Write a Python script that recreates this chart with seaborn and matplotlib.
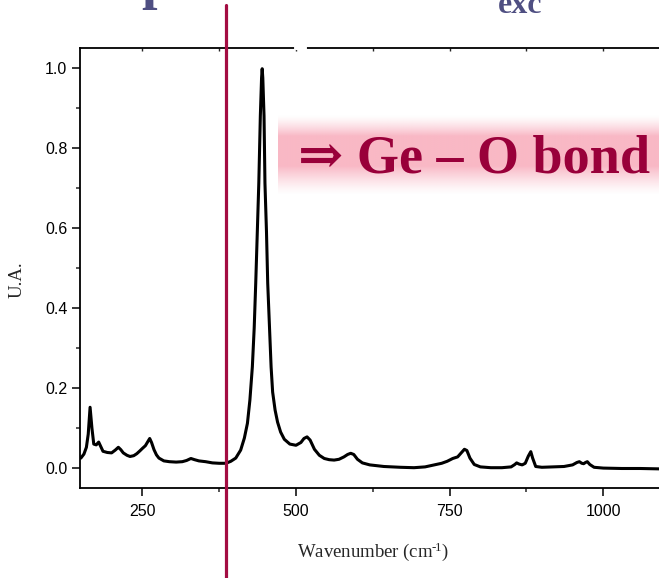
import numpy as np
import matplotlib
matplotlib.use("Agg")
import matplotlib.pyplot as plt
import seaborn as sns
import pandas as pd
from matplotlib.ticker import MultipleLocator, FixedLocator

# ---- data ----
wavenumber = [150, 155, 159, 162, 165, 168, 171, 175, 179, 183, 186, 193, 200, 206, 211,
              215, 219, 225, 230, 236, 241, 246, 250, 255, 259, 262, 265, 269, 273, 277,
              285, 294, 305, 315, 322, 329, 335, 342, 353, 364, 375, 386, 394, 402, 410,
              416, 421, 425, 429, 432, 434.5, 437, 439.5, 442, 444, 445, 446, 448, 449.5,
              452, 454, 457, 459.5, 462, 466, 470, 475, 481, 490, 500, 508, 513, 518, 523,
              530, 538, 546, 554, 562, 570, 578, 584, 589, 594, 600, 608, 620, 643, 670,
              692, 710, 725, 737, 746, 755, 763, 770, 774, 778, 783, 790, 800, 817, 835,
              850, 856, 859, 863, 868, 873, 878, 882, 885, 890, 900, 920, 936, 950, 957,
              961, 965, 968, 971, 974, 978, 985, 1000, 1030, 1060, 1092, 1100]
intensity = [0.025, 0.035, 0.052, 0.085, 0.152, 0.100, 0.060, 0.058, 0.065, 0.052, 0.042,
             0.039, 0.038, 0.045, 0.052, 0.046, 0.038, 0.032, 0.029, 0.031, 0.036, 0.043,
             0.049, 0.056, 0.066, 0.074, 0.064, 0.046, 0.033, 0.025, 0.018, 0.016, 0.015,
             0.016, 0.019, 0.024, 0.021, 0.018, 0.016, 0.013, 0.012, 0.012, 0.017, 0.025,
             0.045, 0.075, 0.112, 0.170, 0.253, 0.350, 0.462, 0.590, 0.712, 0.880, 0.975,
             0.998, 0.975, 0.880, 0.712, 0.590, 0.462, 0.350, 0.253, 0.190, 0.145, 0.115,
             0.090, 0.072, 0.060, 0.057, 0.064, 0.074, 0.078, 0.070, 0.047, 0.032, 0.024,
             0.021, 0.020, 0.022, 0.028, 0.034, 0.037, 0.034, 0.022, 0.013, 0.008, 0.004,
             0.002, 0.001, 0.003, 0.008, 0.012, 0.017, 0.024, 0.028, 0.040, 0.047, 0.044,
             0.025, 0.009, 0.003, 0.001, 0.001, 0.003, 0.009, 0.013, 0.010, 0.008, 0.012,
             0.030, 0.041, 0.025, 0.004, 0.002, 0.003, 0.004, 0.008, 0.014, 0.016, 0.012,
             0.011, 0.014, 0.016, 0.009, 0.002, 0.000, -0.001, -0.001, -0.002, -0.002]
x_major = [250, 500, 750, 1000]
x_minor = [375, 625, 875]
marker_position = 386
annotation = "\u21d2 Ge \u2013 O bond"
xlabel = "Wavenumber (cm$^{\u2010\\!1}$)"
ylabel = "U.A."

df = pd.DataFrame({"wavenumber": wavenumber, "intensity": intensity})

sns.set_style("ticks")
plt.rcParams["font.family"] = ["Liberation Sans", "DejaVu Sans"]
plt.rcParams["mathtext.fontset"] = "custom"
plt.rcParams["mathtext.rm"] = "Liberation Serif"
plt.rcParams["mathtext.it"] = "Liberation Serif:italic"
plt.rcParams["mathtext.default"] = "regular"
plt.rcParams["axes.unicode_minus"] = False

W, H = 659, 578
fig = plt.figure(figsize=(W / 100, H / 100), dpi=100)
L, R, T, B = 80, 667, 48.3, 488.3
ax = fig.add_axes([L / W, (H - B) / H, (R - L) / W, (B - T) / H])

# pink gradient band behind the annotation
ny = 200
yy = np.linspace(0, 1, ny)
band_px = 195 - yy * (195 - 115)
alpha = np.ones(ny)
alpha = np.where(band_px < 136, np.clip((band_px - 115) / 21, 0, 1), alpha)
alpha = np.where(band_px > 166, np.clip((195 - band_px) / 29, 0, 1), alpha)
alpha = alpha ** 1.3 * 0.75
img = np.zeros((ny, 2, 4))
img[..., 0] = 247 / 255
img[..., 1] = 160 / 255
img[..., 2] = 178 / 255
img[..., 3] = alpha[::-1][:, None]
ax.imshow(img, extent=[(278 - L) / (R - L), (659 - L) / (R - L),
                       (B - 195) / (B - T), (B - 115) / (B - T)],
          transform=ax.transAxes, aspect="auto", origin="upper", zorder=0.5,
          interpolation="bilinear")

sns.lineplot(data=df, x="wavenumber", y="intensity", ax=ax, color="black",
             linewidth=2.2, sort=False, estimator=None, zorder=3)

ax.set_xlim(148.6, 1103.6)
ax.set_ylim(-0.0505, 1.049)

ax.xaxis.set_major_locator(FixedLocator(x_major))
ax.xaxis.set_minor_locator(FixedLocator(x_minor))
ax.yaxis.set_major_locator(MultipleLocator(0.2))
ax.yaxis.set_minor_locator(MultipleLocator(0.1))
ax.yaxis.set_major_formatter(matplotlib.ticker.FormatStrFormatter("%.1f"))

for s in ["left", "bottom", "top"]:
    ax.spines[s].set_linewidth(1.3)
    ax.spines[s].set_color("black")
ax.spines["right"].set_visible(False)

ax.tick_params(axis="both", which="major", direction="out", length=6, width=1.1,
               labelsize=11.5, color="black", labelcolor="black")
ax.tick_params(axis="x", which="major", pad=5)
ax.tick_params(axis="y", which="major", pad=3)
ax.tick_params(axis="both", which="minor", direction="out", length=3.2, width=1.1)
ax.tick_params(axis="x", which="both", top=False, labeltop=False)

# inward ticks on the top frame
sec = ax.secondary_xaxis("top")
sec.xaxis.set_major_locator(FixedLocator(x_major))
sec.xaxis.set_minor_locator(FixedLocator(x_minor))
sec.tick_params(axis="x", which="both", direction="in", length=2.5, width=1.0,
                labeltop=False)
sec.spines["top"].set_visible(False)

serif = ["Liberation Serif", "DejaVu Serif"]
ax.set_xlabel(xlabel, fontsize=13.5, family=serif, labelpad=16)
ax.set_ylabel(ylabel, fontsize=13.5, family=serif)
ax.yaxis.set_label_coords(-0.092, 0.473)

# vertical excitation marker
ax.plot([marker_position, marker_position], [-0.204, 1.098], color="#a30d42",
        linewidth=2.3, transform=ax.get_xaxis_transform(), clip_on=False, zorder=6)
# small gap in top frame
ax.plot([500, 514], [1, 1], color="white", linewidth=3,
        transform=ax.get_xaxis_transform(), clip_on=False, zorder=6)

fig.text(298 / W, 1 - 172.7 / H, annotation, fontsize=39, fontweight="bold",
         family=serif, color="#99003a", va="baseline", ha="left", zorder=10)

# clipped title fragments at top
fig.text(141 / W, 1 + 2 / H, "p", fontsize=40, fontweight="bold", family=serif,
         color="#4f4f82", va="baseline", ha="left")
fig.text(498 / W, 1 - 12.6 / H, "exc", fontsize=23, fontweight="bold", family=serif,
         color="#4f4f82", va="baseline", ha="left")

fig.savefig("out.png", dpi=100)
